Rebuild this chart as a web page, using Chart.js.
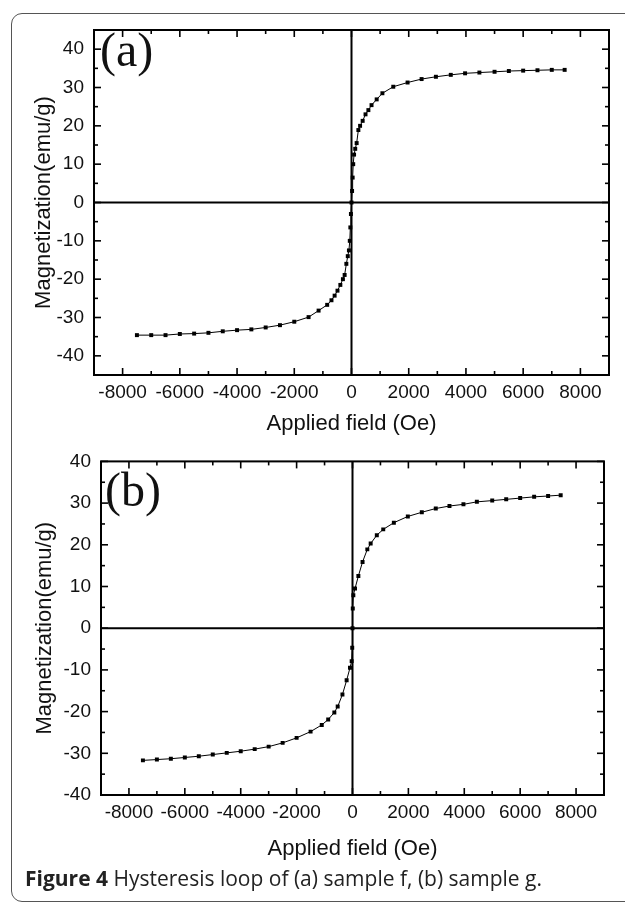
<!DOCTYPE html>
<html><head><meta charset="utf-8">
<script src="https://cdn.jsdelivr.net/npm/chart.js@4.4.0/dist/chart.umd.min.js"></script>
<style>
html,body{margin:0;padding:0;background:#fff;width:625px;height:904px;overflow:hidden;}
body{position:relative;}
#frame{position:absolute;left:11px;top:13px;width:700px;height:889px;border:1.5px solid #555;border-radius:11px;box-sizing:border-box;}
.cv{position:absolute;left:0;}
.lab{position:absolute;font-family:"Liberation Serif","Times New Roman",serif;font-size:48px;color:#111;line-height:1;}
#cap{position:absolute;left:25px;top:864px;font-family:"Open Sans",sans-serif;font-size:21px;line-height:28px;color:#222;white-space:nowrap;}
</style></head><body>
<div id="frame"></div>
<canvas id="ca" class="cv" width="625" height="440" style="top:0px"></canvas>
<canvas id="cb" class="cv" width="625" height="440" style="top:440px"></canvas>
<div class="lab" style="left:100px;top:26px">(a)</div>
<div class="lab" style="left:105px;top:466px">(b)</div>
<div id="cap"><b>Figure 4</b> Hysteresis loop of (a) sample f, (b) sample g.</div>
<script>
// ---- data ----
const fieldA = [-7500,-7000,-6500,-6000,-5500,-5000,-4500,-4000,-3500,-3000,-2500,-2000,-1500,-1150,-850,-700,-590,-490,-390,-300,-240,-180,-130,-90,-60,-40,-20,0,20,40,60,90,130,180,240,300,390,490,590,700,880,1080,1460,1960,2450,2950,3470,3970,4470,5000,5500,6000,6500,7000,7450];
const magA = [-34.6,-34.6,-34.6,-34.3,-34.2,-34.0,-33.6,-33.3,-33.1,-32.6,-32.0,-31.1,-29.9,-28.2,-26.7,-25.5,-24.3,-23.0,-21.5,-20.0,-18.9,-16.0,-14.0,-12.5,-10.0,-6.5,-3.0,0,3.0,6.5,10.0,12.5,14.0,15.5,18.9,20.0,21.3,23.0,24.1,25.4,26.9,28.5,30.2,31.3,32.2,32.8,33.3,33.7,33.9,34.1,34.3,34.4,34.5,34.6,34.6];
const fieldB = [-7500,-7000,-6500,-6000,-5500,-5000,-4500,-4000,-3500,-3000,-2500,-2000,-1500,-1100,-870,-650,-530,-360,-210,-90,-30,-10,0,10,30,90,210,360,530,650,870,1100,1480,1980,2480,2980,3470,3970,4450,5000,5500,6000,6500,7000,7450];
const magB = [-31.7,-31.5,-31.3,-31.0,-30.7,-30.3,-29.9,-29.5,-29.0,-28.4,-27.5,-26.3,-24.8,-23.2,-21.9,-20.2,-18.8,-15.9,-12.5,-9.5,-7.9,-4.7,0,4.7,7.9,9.5,12.5,15.9,18.9,20.3,22.3,23.7,25.3,26.8,27.8,28.7,29.3,29.7,30.3,30.6,30.9,31.2,31.5,31.7,31.9];
const xTickLabels = [-8000,-6000,-4000,-2000,0,2000,4000,6000,8000];
const xMinorTicks = [-7000,-5000,-3000,-1000,1000,3000,5000,7000];
const yTickLabels = [-40,-30,-20,-10,0,10,20,30,40];
const yMinorTicks = [-35,-25,-15,-5,5,15,25,35];
const xTitle = 'Applied field (Oe)';
const yTitle = 'Magnetization(emu/g)';

const framePlugin = {
  id: 'frameTicks',
  beforeDatasetsDraw(chart) {
    const {ctx, chartArea: a, scales: {x, y}} = chart;
    ctx.save();
    ctx.strokeStyle = '#000';
    const ln = (x1, y1, x2, y2) => { ctx.beginPath(); ctx.moveTo(x1, y1); ctx.lineTo(x2, y2); ctx.stroke(); };
    ctx.lineWidth = 2;
    const x0 = x.getPixelForValue(0), y0 = y.getPixelForValue(0);
    ln(x0, a.top, x0, a.bottom);
    ln(a.left, y0, a.right, y0);
    ctx.lineWidth = 1.6;
    const MJ = 7, MN = 4;
    xTickLabels.forEach(v => { const p = x.getPixelForValue(v); ln(p, a.bottom, p, a.bottom - MJ); ln(p, a.top, p, a.top + MJ); });
    xMinorTicks.forEach(v => { const p = x.getPixelForValue(v); ln(p, a.bottom, p, a.bottom - MN); ln(p, a.top, p, a.top + MN); });
    yTickLabels.forEach(v => { const p = y.getPixelForValue(v); ln(a.left, p, a.left + MJ, p); ln(a.right, p, a.right - MJ, p); });
    yMinorTicks.forEach(v => { const p = y.getPixelForValue(v); ln(a.left, p, a.left + MN, p); ln(a.right, p, a.right - MN, p); });
    ctx.lineWidth = 2;
    ctx.strokeRect(a.left, a.top, a.right - a.left, a.bottom - a.top);
    ctx.restore();
  }
};

function makeChart(id, fields, mags, yMin, yMax, g) {
  const pts = fields.map((f, i) => ({x: f, y: mags[i]}));
  return new Chart(document.getElementById(id), {
    type: 'scatter',
    data: { datasets: [{ data: pts, showLine: true, borderColor: '#000', borderWidth: 1,
      pointStyle: 'rect', pointRadius: 2.8, pointBackgroundColor: '#000', pointBorderWidth: 0, tension: 0 }] },
    options: {
      responsive: false, animation: false, devicePixelRatio: 1,
      layout: { padding: { top: g.top, right: g.right, left: 0, bottom: 0 } },
      plugins: { legend: { display: false }, tooltip: { enabled: false } },
      scales: {
        x: {
          type: 'linear', min: -9000, max: 9000,
          grid: { display: false, drawTicks: false }, border: { display: false },
          afterBuildTicks: s => { s.ticks = xTickLabels.map(v => ({value: v})); },
          afterFit: s => { s.height = g.xh; },
          ticks: { callback: v => String(v), color: '#111', padding: g.xpad, maxRotation: 0, autoSkip: false,
            font: { family: '"Liberation Sans", Arial, sans-serif', size: 19 } },
          title: { display: true, text: xTitle, color: '#111', padding: { top: 0, bottom: g.xtb },
            font: { family: '"Liberation Sans", Arial, sans-serif', size: 22 } }
        },
        y: {
          type: 'linear', min: yMin, max: yMax,
          grid: { display: false, drawTicks: false }, border: { display: false },
          afterBuildTicks: s => { s.ticks = yTickLabels.map(v => ({value: v})); },
          afterFit: s => { s.width = g.yw; },
          ticks: { callback: v => String(v), color: '#111', padding: 10, autoSkip: false,
            font: { family: '"Liberation Sans", Arial, sans-serif', size: 19 } },
          title: { display: true, text: yTitle, color: '#111', padding: { top: g.ytp, bottom: 0 },
            font: { family: '"Liberation Sans", Arial, sans-serif', size: 22 } }
        }
      }
    },
    plugins: [framePlugin]
  });
}

makeChart('ca', fieldA, magA, -45, 45, { top: 30, right: 16, xh: 65, yw: 94, xpad: 6, xtb: 3, ytp: 31 });
makeChart('cb', fieldB, magB, -40, 40, { top: 21, right: 21, xh: 85, yw: 101, xpad: 6, xtb: 18, ytp: 32 });
</script>
</body></html>
